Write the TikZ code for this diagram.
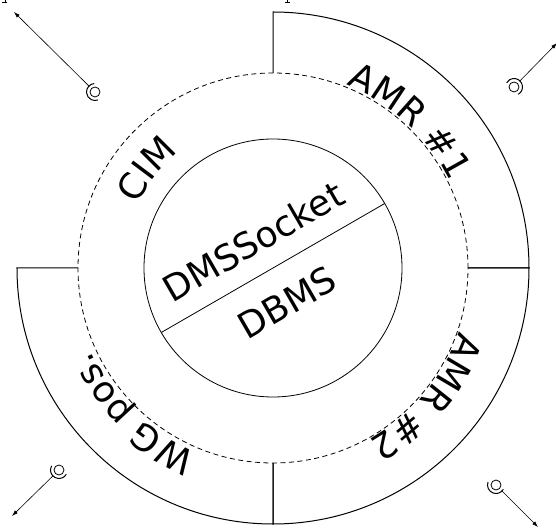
\documentclass[tikz,border=0pt]{standalone}
\usepackage{fontspec}
\newfontfamily\dvsans{DejaVu Sans}
\usetikzlibrary{decorations.text,arrows.meta}
\newcommand\ringfont{\dvsans\fontsize{36}{42}\selectfont}
\tikzset{
  ring/.style={line width=0.8pt},
  sector/.style={line width=1pt},
  dashring/.style={line width=0.8pt, dash pattern=on 5pt off 3.5pt},
  pin/.style={circle, draw, line width=0.8pt, minimum size=10pt, inner sep=0pt, outer sep=3pt},
  pinarc/.style={line width=1pt},
  signal/.style={line width=0.6pt, -{Latex[length=6pt,width=4pt]}},
  arclabel/.style={decorate, decoration={text along path, text align=center, text color=black}},
}
\begin{document}
\begin{tikzpicture}[x=1pt,y=1pt]
\useasboundingbox (-273,-261) rectangle (283,268);

% core: split circle
\draw[ring] (0,0) circle[radius=129];
\draw[ring] (210:129) -- (30:129);
\node[rotate=30, font=\ringfont] (sock) at (-4*0.866-33*0.5, -4*0.5+33*0.866) {DMSSocket};
\node[rotate=30, font=\ringfont] (dbms) at (-5*0.866+37*0.5, -5*0.5-37*0.866) {DBMS};

% middle ring
\draw[dashring] (0,0) circle[radius=195];

% outer sectors
\draw[sector] (90:195) -- (90:256) arc[start angle=90, end angle=0, radius=256] -- (0:195);
\draw[sector] (0:195) -- (0:256) arc[start angle=0, end angle=-90, radius=256] -- (-90:195);
\draw[sector] (180:195) -- (180:256) arc[start angle=180, end angle=270, radius=256] -- (270:195);

% ring labels, written clockwise
\path[arclabel, decoration={text={|\ringfont|CIM}}]
  (182:149) arc[start angle=182, end angle=102, radius=149];
\path[arclabel, decoration={text={|\ringfont|AMR {\#}1}}]
  (97:197) arc[start angle=97, end angle=-3, radius=197];
\path[arclabel, decoration={text={|\ringfont|AMR {\#}2}}]
  (10:197) arc[start angle=10, end angle=-90, radius=197];
\path[arclabel, decoration={text={|\ringfont|WG pos.}}]
  (276:200) arc[start angle=276, end angle=176, radius=200];

% antennas
\node[pin] (pTL) at (-178,176) {};
\node[pin] (pTR) at (241,181) {};
\node[pin] (pBL) at (-214,-202) {};
\node[pin] (pBR) at (223,-217) {};
\coordinate (tTL) at (-259,256);
\coordinate (tTR) at (284,225);
\coordinate (tBL) at (-261,-248);
\coordinate (tBR) at (265,-259);
\draw[pinarc] (pTL.center) ++(95:8.5) arc[start angle=95, end angle=290, radius=8.5];
\draw[pinarc] (pTR.center) ++(-60:8.5) arc[start angle=-60, end angle=150, radius=8.5];
\draw[pinarc] (pBL.center) ++(150:8.5) arc[start angle=150, end angle=330, radius=8.5];
\draw[pinarc] (pBR.center) ++(160:8.5) arc[start angle=160, end angle=330, radius=8.5];
\draw[signal] (pTL) -- (tTL);
\draw[signal] (pTR) -- (tTR);
\draw[signal] (pBL) -- (tBL);
\draw[signal] (pBR) -- (tBR);

% glyph feet cut by the top edge
\draw[line width=0.8pt] (-268,268) -- (-268,265.3) (-270.5,265.3) -- (-265.5,265.3);
\draw[line width=0.8pt] (14,268) -- (14,265.3) (11.5,265.3) -- (16.5,265.3);
\end{tikzpicture}
\end{document}
